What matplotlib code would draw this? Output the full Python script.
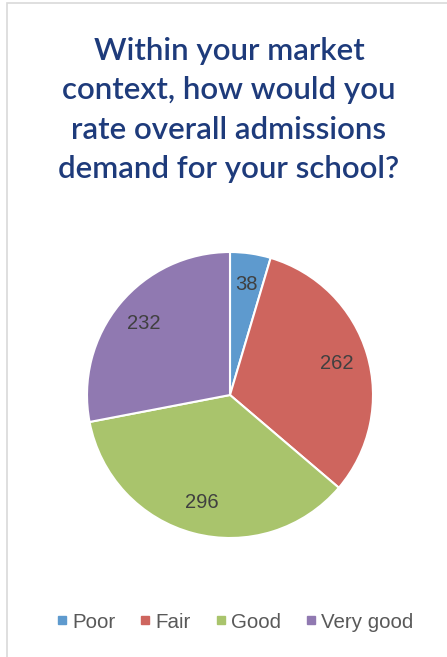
import matplotlib
matplotlib.use('Agg')
import matplotlib.pyplot as plt
from matplotlib.patches import Rectangle
from matplotlib.lines import Line2D

# data
categories = ['Poor', 'Fair', 'Good', 'Very good']
counts = [38, 262, 296, 232]
colors = ['#5E9ACE', '#CE655E', '#A9C46C', '#9079B1']
title = 'Within your market\ncontext, how would you\nrate overall admissions\ndemand for your school?'

W, H = 447, 657
fig = plt.figure(figsize=(W / 100, H / 100), dpi=100)
fig.patch.set_facecolor('white')

# light frame of the chart box
fig.patches.append(Rectangle((7 / W, -0.05), 1.1, 1 - 3 / H + 0.05,
                             transform=fig.transFigure, fill=False,
                             edgecolor='#D9D9D9', linewidth=1.2))

# title
fig.text(229 / W, 1 - 110 / H, title, ha='center', va='center',
         fontsize=22.5, fontweight='semibold', family='Lato', color='#1E3B7B',
         linespacing=1.48)

# pie
cx, cy, r = 230, 395, 143
ax = fig.add_axes([(cx - r) / W, (H - cy - r) / H, 2 * r / W, 2 * r / H])
total = sum(counts)
wedges, texts, autotexts = ax.pie(
    counts, colors=colors, startangle=90, counterclock=False,
    autopct=lambda p: '%d' % round(p * total / 100), pctdistance=0.78,
    wedgeprops=dict(edgecolor='white', linewidth=1.5))
for t in autotexts:
    t.set_color('#404040')
    t.set_fontsize(14.5)
    t.set_family('Liberation Sans')
ax.set_xlim(-1, 1)
ax.set_ylim(-1, 1)
ax.set_aspect('auto')
ax.axis('off')

# legend
handles = [Line2D([], [], marker='s', linestyle='none', markersize=6,
                  markerfacecolor=c, markeredgecolor=c) for c in colors]
leg = fig.legend(handles, categories, loc='center', ncol=4,
                 bbox_to_anchor=(235 / W, 1 - 622 / H), frameon=False,
                 handlelength=0.5, handletextpad=0.25, columnspacing=1.2,
                 prop={'family': 'Liberation Sans', 'size': 14.8})
for t in leg.get_texts():
    t.set_color('#595959')

fig.savefig('out.png', dpi=100)
